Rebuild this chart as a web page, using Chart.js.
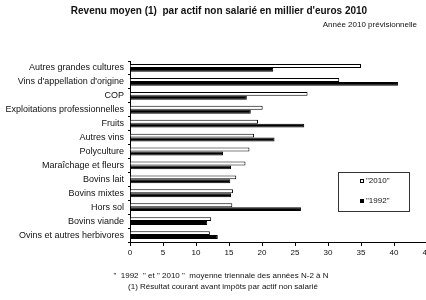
<!DOCTYPE html>
<html>
<head>
<meta charset="utf-8">
<script src="https://cdn.jsdelivr.net/npm/chart.js@4.4.0/dist/chart.umd.min.js"></script>
<style>
html, body { margin: 0; padding: 0; background: #fff; overflow: hidden; width: 426px; height: 300px; }
</style>
</head>
<body>
<canvas id="myChart" width="440" height="300"></canvas>
<script>
var categories = ['Autres grandes cultures', "Vins d'appellation d'origine", 'COP', 'Exploitations professionnelles',
    'Fruits', 'Autres vins', 'Polyculture', 'Maraîchage et fleurs', 'Bovins lait', 'Bovins mixtes',
    'Hors sol', 'Bovins viande', 'Ovins et autres herbivores'];
var values2010 = [35.0, 31.7, 26.9, 20.1, 19.4, 18.8, 18.1, 17.5, 16.1, 15.6, 15.5, 12.3, 12.1];
var values1992 = [21.7, 40.6, 17.7, 18.3, 26.4, 21.9, 14.1, 15.3, 15.2, 15.3, 25.9, 11.7, 13.3];
var xTicks = [0, 5, 10, 15, 20, 25, 30, 35, 40, 45];

var titleText = "Revenu moyen (1)  par actif non salarié en millier d'euros 2010";
var subtitleText = 'Année 2010 prévisionnelle';
var notes = ['"  1992  " et " 2010 "  moyenne triennale des années N-2 à N',
    '(1) Résultat courant avant impôts par actif non salarié'];

var fontName = '"Liberation Sans", Arial, sans-serif';
Chart.defaults.font.family = fontName;
Chart.defaults.color = '#111';

// titles, footnotes and the boxed legend
var extras = {
    id: 'extras',
    afterDraw: function(chart) {
        var ctx = chart.ctx;
        ctx.save();
        ctx.fillStyle = '#111';
        ctx.textBaseline = 'middle';
        ctx.textAlign = 'center';
        ctx.font = 'bold 10px ' + fontName;
        ctx.fillText(titleText, 219, 11);
        ctx.textAlign = 'right';
        ctx.font = '8px ' + fontName;
        ctx.fillText(subtitleText, 417, 25);
        ctx.textAlign = 'center';
        ctx.fillText(notes[0], 221, 276);
        ctx.fillText(notes[1], 223, 287);

        ctx.strokeStyle = '#333';
        ctx.lineWidth = 1;
        ctx.strokeRect(338.5, 172.5, 71, 39);
        ctx.textAlign = 'left';
        chart.data.datasets.forEach(function(ds, i) {
            var y = 181 + i * 20;
            var w = 6 + ctx.measureText(ds.label).width;
            var x0 = Math.round(375 - w / 2);
            ctx.fillStyle = ds.backgroundColor;
            ctx.fillRect(x0, y - 2, 4, 4);
            ctx.strokeStyle = '#000';
            ctx.strokeRect(x0 + 0.5, y - 1.5, 3, 3);
            ctx.fillStyle = '#111';
            ctx.fillText(ds.label, x0 + 6, y);
        });
        ctx.restore();
    }
};

var ctx = document.getElementById('myChart').getContext('2d');
var myChart = new Chart(ctx, {
    type: 'bar',
    data: {
        labels: categories,
        datasets: [{
            label: '"2010"',
            data: values2010,
            backgroundColor: '#ffffff',
            borderColor: '#000000',
            borderWidth: 1,
            categoryPercentage: 0.56,
            barPercentage: 1
        }, {
            label: '"1992"',
            data: values1992,
            backgroundColor: '#000000',
            borderColor: '#000000',
            borderWidth: 1,
            categoryPercentage: 0.56,
            barPercentage: 1
        }]
    },
    options: {
        indexAxis: 'y',
        responsive: false,
        animation: false,
        layout: { padding: { top: 61, right: 13, left: 0, bottom: 0 } },
        plugins: {
            legend: { display: false },
            tooltip: { enabled: false }
        },
        scales: {
            x: {
                min: 0,
                max: 45,
                afterBuildTicks: function(scale) {
                    scale.ticks = xTicks.map(function(v) { return { value: v }; });
                },
                ticks: { font: { size: 8 }, padding: 2, maxRotation: 0 },
                grid: { drawOnChartArea: false, tickLength: 4, color: '#000' },
                border: { color: '#000' },
                afterFit: function(scale) { scale.height = 58; }
            },
            y: {
                ticks: { font: { size: 9 }, padding: 4 },
                grid: { drawOnChartArea: false, tickLength: 2, color: '#000' },
                border: { color: '#000' },
                afterFit: function(scale) { scale.width = 130; }
            }
        }
    },
    plugins: [extras]
});
</script>
</body>
</html>
